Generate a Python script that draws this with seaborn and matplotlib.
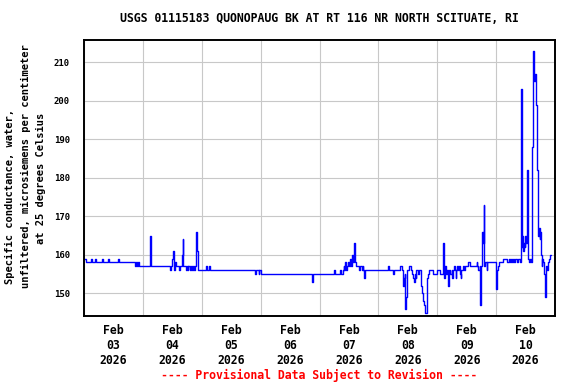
import pandas as pd
import matplotlib
matplotlib.use("Agg")
import matplotlib.pyplot as plt
import matplotlib.dates as mdates
from matplotlib.ticker import NullFormatter, MultipleLocator
import seaborn as sns

# Text
title = "USGS 01115183 QUONOPAUG BK AT RT 116 NR NORTH SCITUATE, RI"
ylabel_lines = ["Specific conductance, water,",
                "unfiltered, microsiemens per centimeter",
                "at 25 degrees Celsius"]
footer = "---- Provisional Data Subject to Revision ----"
start = "2026-02-03"
end = "2026-02-11"

# Step changes: hours after Feb 03 00:00 and the new value
hours = [0.0, 0.8, 3.0, 3.4, 4.5, 4.8, 7.3, 7.7, 9.9, 10.2, 14.0, 14.3,
         20.8, 21.1, 21.6, 21.9, 22.5,
         26.9, 27.2, 27.4, 35.1, 35.3, 35.9, 36.3, 36.6, 36.8, 37.1, 37.4,
         38.7, 39.1, 39.9, 40.2, 40.5, 41.4, 41.8, 42.2, 42.5, 43.2, 43.6,
         44.0, 44.4, 44.8, 45.2, 45.8, 46.1, 46.3,
         49.7, 50.1, 50.9, 51.4, 69.8, 70.1, 71.2, 71.5, 72.0,
         93.1, 93.3, 93.5,
         101.9, 102.3, 104.4, 104.8, 105.5, 105.9, 106.1, 106.4, 106.8,
         107.2, 107.5, 108.0, 108.4, 108.7, 109.0, 109.4, 109.7, 110.1,
         110.4, 110.6, 111.0, 112.1, 112.5, 113.2, 113.6, 113.8, 114.3, 114.7,
         124.0, 124.3, 126.1, 126.4, 128.8, 129.5, 130.0, 130.3, 130.7,
         131.0, 131.2, 131.5, 132.5, 133.5, 133.7, 134.1, 134.5, 134.9,
         135.2, 135.5, 136.1, 136.6, 137.4, 137.8, 138.2, 138.6, 139.1,
         139.7, 139.9, 140.2, 140.6, 142.4, 143.8,
         145.1, 146.5, 146.8, 147.1, 147.5, 148.0, 148.5, 148.8, 149.3,
         149.9, 150.1, 150.4, 150.7, 151.2, 151.5, 151.8, 152.0, 152.4,
         152.9, 153.1, 153.6, 153.8, 154.5, 154.9, 155.5, 156.7, 157.2,
         160.0, 160.3, 160.7, 161.3, 161.4, 161.7, 162.0, 162.3, 162.5,
         162.9, 163.2, 163.5, 164.2, 164.4,
         168.0, 168.3, 168.8, 169.2, 170.9, 172.3, 173.2, 173.6, 174.1,
         174.6, 175.0, 175.3, 175.7, 176.4, 176.9, 177.9, 178.1, 178.4,
         178.7, 179.0, 179.2, 179.7, 179.9, 180.3, 180.6, 180.9, 181.1,
         181.4, 181.8, 182.2, 182.7, 183.2, 183.4, 183.6, 183.9, 184.1,
         184.4, 184.7, 184.8, 184.9, 185.2, 185.5, 185.7, 186.0, 186.3,
         186.6, 186.8, 187.1, 187.4, 187.7, 187.9, 188.2, 188.6, 189.0,
         189.6, 190.0, 190.4]
values = [159, 158, 159, 158, 159, 158, 159, 158, 159, 158, 159, 158,
          157, 158, 157, 158, 157,
          165, 164, 157, 156, 157, 159, 161, 158, 156, 158, 157,
          156, 157, 160, 164, 157, 156, 157, 156, 157, 156, 157,
          156, 157, 156, 157, 166, 161, 156,
          157, 156, 157, 156, 155, 156, 155, 156, 155,
          153, 154, 155,
          156, 155, 156, 155, 156, 157, 156, 158, 156,
          157, 158, 157, 159, 158, 157, 160, 158, 163,
          159, 158, 157, 156, 157, 156, 157, 156, 154, 156,
          157, 156, 155, 156, 157, 156, 152, 154, 155,
          146, 149, 156, 157, 156, 155, 154, 153, 155,
          154, 156, 155, 156, 152, 150, 148, 147, 145,
          150, 154, 155, 156, 155, 156,
          155, 163, 154, 157, 155, 156, 152, 156, 155,
          156, 154, 156, 157, 156, 154, 156, 157, 156,
          157, 155, 154, 156, 157, 156, 157, 158, 157,
          158, 157, 156, 157, 147, 150, 157, 166, 163,
          173, 157, 158, 156, 158,
          151, 156, 157, 158, 159, 158, 159, 158, 159,
          158, 159, 158, 159, 158, 159, 158, 203, 162,
          165, 161, 163, 162, 165, 163, 182, 171, 159,
          158, 159, 158, 188, 213, 209, 205, 207, 206,
          199, 190, 182, 173, 165, 167, 164, 166, 160,
          157, 159, 158, 156, 155, 149, 157, 156, 158,
          159, 160, 160]

sns.set_style("white")
plt.rcParams["font.family"] = ["DejaVu Sans Mono"]
plt.rcParams["font.weight"] = "bold"
plt.rcParams["text.color"] = "black"
plt.rcParams["xtick.color"] = "black"
plt.rcParams["ytick.color"] = "black"

df = pd.DataFrame({
    "time": pd.Timestamp(start) + pd.to_timedelta(hours, unit="h"),
    "value": values,
})

fig = plt.figure(figsize=(5.76, 3.84), dpi=100)
ax = fig.add_axes([84 / 576, 1 - 316 / 384, 471 / 576, 276.5 / 384])

sns.lineplot(data=df, x="time", y="value", ax=ax, color="#0000ff",
             linewidth=1.0, drawstyle="steps-post", estimator=None)

ax.set_xlim(pd.Timestamp(start), pd.Timestamp(end))
ax.set_ylim(144.1, 215.9)
ax.set_xlabel("")
ax.set_ylabel("")

# gridlines at midnight, labels at noon
ax.xaxis.set_major_locator(mdates.DayLocator())
ax.xaxis.set_major_formatter(NullFormatter())
ax.xaxis.set_minor_locator(mdates.HourLocator(byhour=[12]))
ax.xaxis.set_minor_formatter(mdates.DateFormatter("%b\n%d\n%Y"))
ax.yaxis.set_major_locator(MultipleLocator(10))

ax.tick_params(axis="x", which="both", length=0, pad=6, labelsize=8.3,
               labelcolor="black")
ax.tick_params(axis="y", which="both", length=0, pad=10, labelsize=6.5,
               labelcolor="black")
ax.grid(True, which="major", color="#c8c8c8", linewidth=0.8)
for s in ax.spines.values():
    s.set_color("black")
    s.set_linewidth(1.4)

fig.text(319.5 / 576, 1 - 19 / 384, title, ha="center", va="center",
         fontsize=8.3, color="black")
fig.text(319 / 576, 1 - 375 / 384, footer, ha="center", va="center",
         fontsize=8.3, color="red")

# y label lines, each centred where it sits in the original
for txt, x, y in zip(ylabel_lines, [9.5, 25.5, 40.5], [196, 166, 178]):
    fig.text(x / 576, 1 - y / 384, txt, rotation=90, ha="center", va="center",
             fontsize=7.5, color="black")

fig.savefig("out.png", dpi=100)
